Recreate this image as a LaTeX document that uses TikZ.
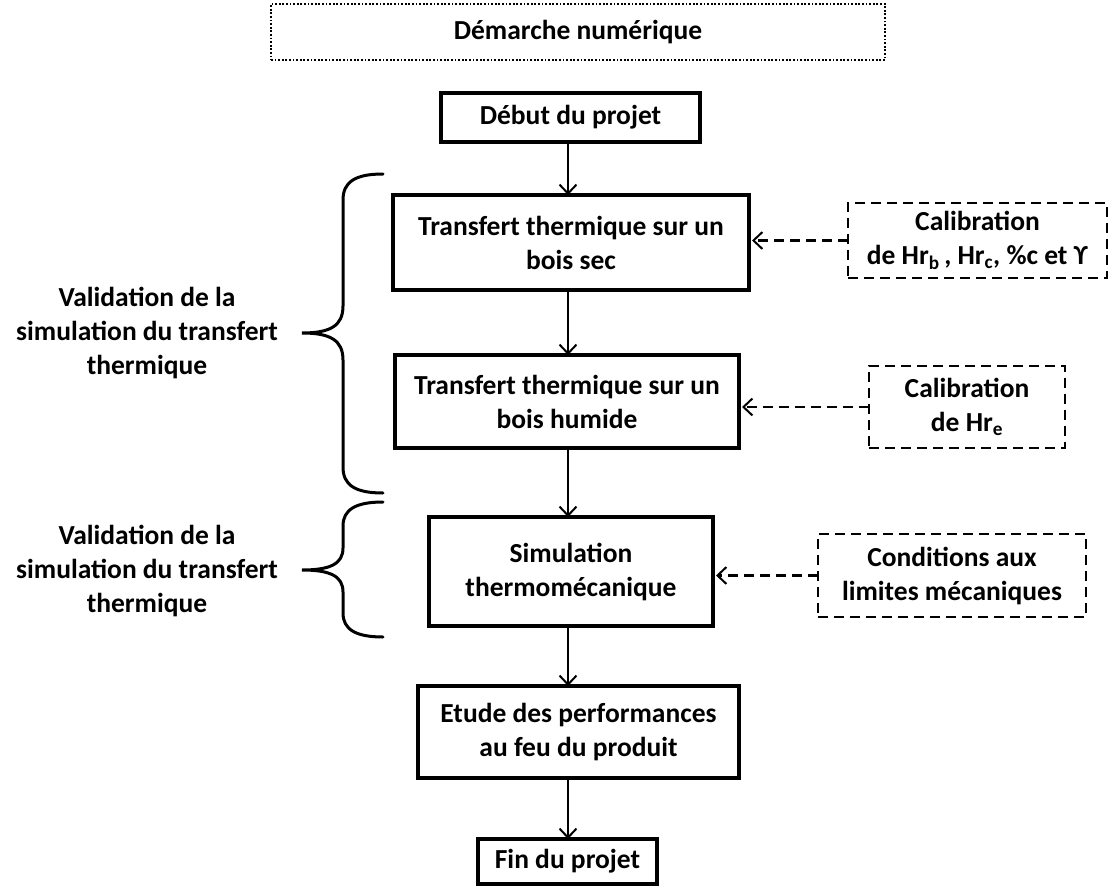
\documentclass[tikz,border=0pt]{standalone}
\usepackage{fontspec}
\setmainfont{Carlito}
\usetikzlibrary{arrows.meta}
\newcommand{\lbl}{\bfseries\fontsize{27.5}{34}\selectfont}
\tikzset{
  box/.style={draw, line width=4pt, rectangle, outer sep=0pt, inner sep=0pt, align=center, font=\lbl},
  dbox/.style={draw, line width=2.5pt, dash pattern=on 10pt off 6pt, rectangle, outer sep=0pt, inner sep=0pt, align=center, font=\lbl},
  tbox/.style={draw, line width=1.8pt, dash pattern=on 1.8pt off 1.8pt, rectangle, outer sep=0pt, inner sep=0pt, align=center, font=\lbl},
  lab/.style={align=center, font=\lbl, inner sep=0pt},
  tip/.style={-{Straight Barb[length=9pt,width=17pt,line width=2pt]}},
  flow/.style={line width=2pt, tip},
  dflow/.style={line width=2.5pt, dash pattern=on 10pt off 6pt, tip, shorten >=3pt},
  bracestyle/.style={line width=3pt, line cap=round},
}
\begin{document}
\begin{tikzpicture}[x=1pt,y=-1pt]
\useasboundingbox (0,0) rectangle (1109,886);
% main column
\node[tbox, minimum width=614pt, minimum height=56pt] (title) at (578,32) {Démarche numérique};
\node[box, minimum width=259pt, minimum height=49pt] (debut) at (570.5,117.5) {Début du projet};
\node[box, minimum width=356pt, minimum height=95pt] (sec) at (571,242.5) {Transfert thermique sur un\\bois sec};
\node[box, minimum width=344pt, minimum height=93pt] (hum) at (567,401.5) {Transfert thermique sur un\\bois humide};
\node[box, minimum width=284pt, minimum height=109pt] (simu) at (571,571.5) {Simulation\\thermomécanique};
\node[box, minimum width=321pt, minimum height=92pt] (etude) at (578.5,732) {Etude des performances\\au feu du produit};
\node[box, minimum width=179pt, minimum height=45pt] (fin) at (567.5,861.5) {Fin du projet};
\coordinate (ax) at (568,0);
\draw[flow] (debut.south -| ax) -- (sec.north -| ax);
\draw[flow] (sec.south -| ax) -- (hum.north -| ax);
\draw[flow] (hum.south -| ax) -- (simu.north -| ax);
\draw[flow] (simu.south -| ax) -- (etude.north -| ax);
\draw[flow] (etude.south -| ax) -- (fin.north -| ax);
% right dashed boxes
\node[dbox, minimum width=259pt, minimum height=75pt] (cal1) at (977.5,240.5) {Calibration\\de Hr\textsubscript{b}\,, Hr\textsubscript{c}, \%c et ϒ};
\node[dbox, minimum width=196pt, minimum height=82pt] (cal2) at (967,407) {Calibration\\de Hr\textsubscript{e}};
\node[dbox, minimum width=268pt, minimum height=83pt] (cond) at (952,575.5) {Conditions aux\\limites mécaniques};
\draw[dflow] (cal1.west) -- (cal1.west -| sec.east);
\draw[dflow] (cal2.west) -- (cal2.west -| hum.east);
\draw[dflow] (cond.west) -- (cond.west -| simu.east);
% braces
\draw[bracestyle] (383,174) .. controls (355,174) and (343,182) .. (343,200) -- (343,306)
  .. controls (343,326) and (330,333) .. (302,333)
  .. controls (330,333) and (343,340) .. (343,360) -- (343,467)
  .. controls (343,485) and (355,493) .. (383,493);
\draw[bracestyle] (383,502) .. controls (355,502) and (343,510) .. (343,526) -- (343,548)
  .. controls (343,564) and (330,570) .. (302,570)
  .. controls (330,570) and (343,576) .. (343,592) -- (343,613)
  .. controls (343,629) and (355,637) .. (383,637);
% left labels
\node[lab] (val1) at (147,333) {Validation de la\\simulation du transfert\\thermique};
\node[lab] (val2) at (147,571) {Validation de la\\simulation du transfert\\thermique};
\end{tikzpicture}
\end{document}
